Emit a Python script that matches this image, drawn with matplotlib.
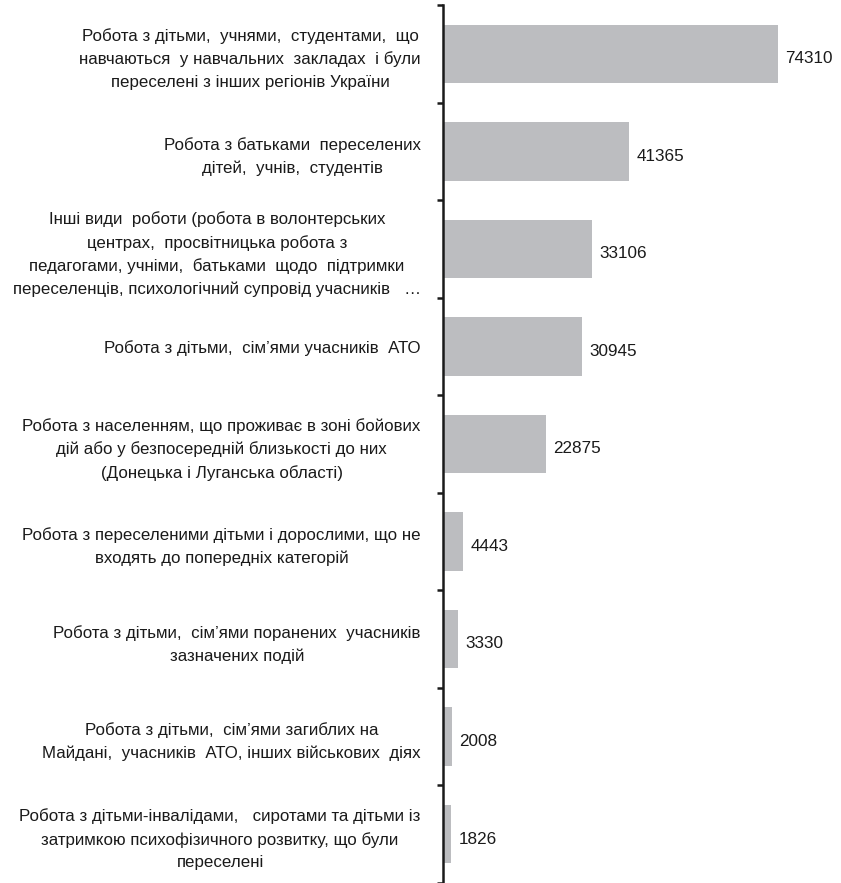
import numpy as np
import matplotlib
matplotlib.use('Agg')
import matplotlib.pyplot as plt

plt.rcParams['font.family'] = ['Liberation Sans', 'DejaVu Sans']

categories = [
    'Робота з дітьми,  учнями,  студентами,  що\nнавчаються  у навчальних  закладах  і були\nпереселені з інших регіонів України',
    'Робота з батьками  переселених\nдітей,  учнів,  студентів',
    'Інші види  роботи (робота в волонтерських\nцентрах,  просвітницька робота з\nпедагогами, учніми,  батьками  щодо  підтримки\nпереселенців, психологічний супровід учасників   …',
    'Робота з дітьми,  сім’ями учасників  АТО',
    'Робота з населенням, що проживає в зоні бойових\nдій або у безпосередній близькості до них\n(Донецька і Луганська області)',
    'Робота з переселеними дітьми і дорослими, що не\nвходять до попередніх категорій',
    'Робота з дітьми,  сім’ями поранених  учасників\nзазначених подій',
    'Робота з дітьми,  сім’ями загиблих на\nМайдані,  учасників  АТО, інших військових  діях',
    'Робота з дітьми-інвалідами,   сиротами та дітьми із\nзатримкою психофізичного розвитку, що були\nпереселені',
]
values = [74310, 41365, 33106, 30945, 22875, 4443, 3330, 2008, 1826]

fig = plt.figure(figsize=(8.41, 8.83), dpi=100)
ax = fig.add_axes([443 / 841, 0.0, 1 - 443 / 841, 1 - 5 / 883])

y = np.arange(len(values))
ax.barh(y, values, height=0.6, color='#bcbdc0', left=0)
for yi, v in zip(y, values):
    ax.text(v + 1600, yi + 0.05, str(v), va='center', ha='left', fontsize=12.3, color='#1a1a1a')

ax.set_xlim(0, 88400)
ax.set_ylim(len(values) - 0.5, -0.5)

for s in ['top', 'right', 'bottom']:
    ax.spines[s].set_visible(False)
ax.spines['left'].set_linewidth(1.8)
ax.spines['left'].set_color('#1a1a1a')
ax.set_xticks([])

ax.set_yticks(np.arange(-0.5, len(values), 1.0))
ax.set_yticklabels([])
ax.tick_params(axis='y', which='major', direction='out', length=4.5, width=1.8, color='#1a1a1a')
ax.set_yticks(y, minor=True)
ax.set_yticklabels(categories, minor=True, multialignment='center', fontsize=12.2,
                   linespacing=1.6, color='#1a1a1a')
ax.tick_params(axis='y', which='minor', length=0, pad=16)

fig.savefig('out.png', dpi=100)
